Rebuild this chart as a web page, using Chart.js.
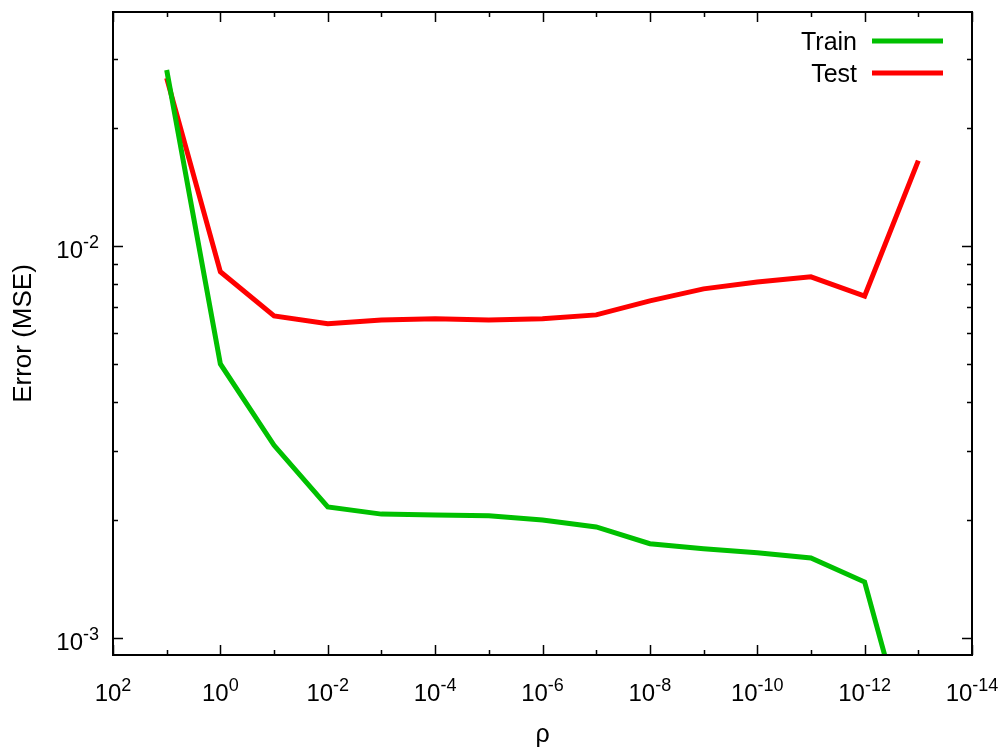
<!DOCTYPE html>
<html>
<head>
<meta charset="utf-8">
<script src="https://cdn.jsdelivr.net/npm/chart.js@4/dist/chart.umd.min.js"></script>
<style>
  html, body { margin: 0; padding: 0; background: #fff; }
</style>
</head>
<body>
<canvas id="chart" width="1008" height="753"></canvas>
<script>
// rho values (x), one point per decade
const rho = [1e1, 1e0, 1e-1, 1e-2, 1e-3, 1e-4, 1e-5, 1e-6, 1e-7, 1e-8, 1e-9, 1e-10, 1e-11, 1e-12, 1e-13];
const trainErr = [0.0281, 0.0050, 0.0031, 0.00216, 0.00207, 0.00206, 0.00205, 0.0020, 0.00192, 0.00174, 0.00169, 0.00165, 0.0016, 0.00139, 0.00044];
const testErr = [0.0268, 0.00859, 0.00663, 0.00633, 0.00647, 0.00652, 0.00647, 0.00652, 0.00667, 0.00724, 0.00777, 0.00809, 0.00834, 0.00745, 0.0165];

// labelled tick exponents
const xTickExp = [2, 0, -2, -4, -6, -8, -10, -12, -14];
const yTickExp = [-2, -3];

const FONT = "'Liberation Sans', Arial, Helvetica, sans-serif";

function drawPow(ctx, exp, x, y, align) {
  // "10" with superscript exponent
  ctx.font = "24px " + FONT;
  const wBase = ctx.measureText("10").width;
  ctx.font = "18px " + FONT;
  const sup = String(exp);
  const wSup = ctx.measureText(sup).width;
  const total = wBase + wSup;
  let x0 = align === "right" ? x - total : x - total / 2;
  ctx.textAlign = "left";
  ctx.textBaseline = "alphabetic";
  ctx.font = "24px " + FONT;
  ctx.fillText("10", x0, y);
  ctx.font = "18px " + FONT;
  ctx.fillText(sup, x0 + wBase, y - 10);
}

const frame = {
  id: "frame",
  afterDraw(chart) {
    const { ctx, chartArea: a, scales } = chart;
    const xs = scales.x, ys = scales.y;
    ctx.save();
    ctx.strokeStyle = "#000";
    ctx.fillStyle = "#000";

    // x ticks (inward, mirrored top and bottom)
    ctx.lineWidth = 1.5;
    for (let e = 2; e >= -14; e--) {
      const px = Math.round(xs.getPixelForValue(Math.pow(10, e))) + 0.5;
      const len = e % 2 === 0 ? 10 : 5;
      ctx.beginPath();
      ctx.moveTo(px, a.bottom); ctx.lineTo(px, a.bottom - len);
      ctx.moveTo(px, a.top); ctx.lineTo(px, a.top + len);
      ctx.stroke();
    }
    // y ticks
    for (let e = -4; e <= -1; e++) {
      for (let m = 1; m <= 9; m++) {
        const v = m * Math.pow(10, e);
        if (v < ys.min || v > ys.max) continue;
        const py = Math.round(ys.getPixelForValue(v)) + 0.5;
        const len = m === 1 ? 10 : 5;
        ctx.beginPath();
        ctx.moveTo(a.left, py); ctx.lineTo(a.left + len, py);
        ctx.moveTo(a.right, py); ctx.lineTo(a.right - len, py);
        ctx.stroke();
      }
    }

    // box
    ctx.lineWidth = 2;
    ctx.strokeRect(a.left, a.top, a.right - a.left, a.bottom - a.top);

    // tick labels
    xTickExp.forEach(e => {
      drawPow(ctx, e, xs.getPixelForValue(Math.pow(10, e)), 701, "center");
    });
    yTickExp.forEach(e => {
      drawPow(ctx, e, 99, ys.getPixelForValue(Math.pow(10, e)) + 12, "right");
    });

    // key
    ctx.font = "25px " + FONT;
    ctx.textAlign = "right";
    ctx.textBaseline = "alphabetic";
    chart.data.datasets.forEach((ds, i) => {
      const y = 41 + i * 32;
      ctx.fillStyle = "#000";
      ctx.fillText(ds.label, 857, y + 9);
      ctx.strokeStyle = ds.borderColor;
      ctx.lineWidth = 5;
      ctx.beginPath();
      ctx.moveTo(872, y); ctx.lineTo(943, y);
      ctx.stroke();
    });
    ctx.restore();
  }
};

new Chart(document.getElementById("chart"), {
  type: "line",
  data: {
    datasets: [
      {
        label: "Train",
        data: rho.map((r, i) => ({ x: r, y: trainErr[i] })),
        borderColor: "#00c000",
        fill: false,
      },
      {
        label: "Test",
        data: rho.map((r, i) => ({ x: r, y: testErr[i] })),
        borderColor: "#ff0000",
        fill: false,
      },
    ],
  },
  options: {
    responsive: false,
    animation: false,
    layout: { padding: { top: 12, right: 36, left: 0, bottom: 0 } },
    plugins: {
      legend: { display: false },
      tooltip: { enabled: false },
    },
    elements: {
      point: { radius: 0 },
      line: { borderWidth: 5, tension: 0 },
    },
    scales: {
      x: {
        type: "logarithmic",
        reverse: true,
        min: 1e-14,
        max: 1e2,
        grid: { display: false },
        border: { display: false },
        ticks: { display: false },
        title: {
          display: true,
          text: "ρ",
          color: "#000",
          font: { family: FONT, size: 25 },
          padding: { top: 0, bottom: 3 },
        },
        afterFit(s) { s.height = 98; },
      },
      y: {
        type: "logarithmic",
        min: 0.000905,
        max: 0.0395,
        grid: { display: false },
        border: { display: false },
        ticks: { display: false },
        title: {
          display: true,
          text: "Error (MSE)",
          color: "#000",
          font: { family: FONT, size: 26 },
          padding: { top: 8, bottom: 0 },
        },
        afterFit(s) { s.width = 113; },
      },
    },
  },
  plugins: [frame],
});
</script>
</body>
</html>
